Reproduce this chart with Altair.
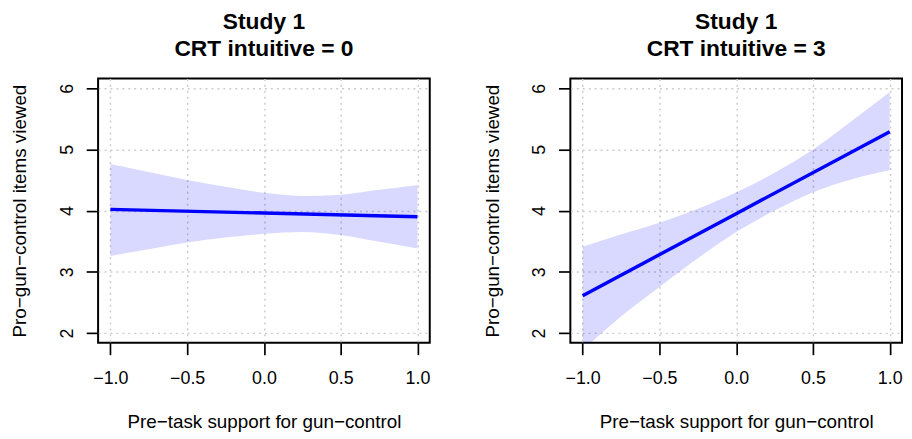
import altair as alt
import pandas as pd

# ---- data ----
x_band = [-1.0, -0.75, -0.5, -0.25, 0.0, 0.25, 0.5, 0.75, 1.0]
upper_crt0 = [4.76, 4.63, 4.50, 4.39, 4.29, 4.24, 4.26, 4.34, 4.42]
lower_crt0 = [3.26, 3.37, 3.48, 3.56, 3.62, 3.65, 3.60, 3.49, 3.38]
upper_crt3 = [3.41, 3.61, 3.80, 4.03, 4.30, 4.62, 5.00, 5.46, 5.94]
lower_crt3 = [1.72, 2.27, 2.75, 3.22, 3.65, 4.00, 4.30, 4.51, 4.66]

x_fit = [-1.0, 0.0, 1.0]
fit_crt0 = [4.02, 3.96, 3.90]
fit_crt3 = [2.61, 3.95, 5.29]

x_ticks = [-1.0, -0.5, 0.0, 0.5, 1.0]
y_ticks = [2, 3, 4, 5, 6]
titles = [["Study 1", "CRT intuitive = 0"], ["Study 1", "CRT intuitive = 3"]]
x_title = "Pre\u2212task support for gun\u2212control"
y_title = "Pro\u2212gun\u2212control items viewed"

FONT = "Liberation Sans"
W, H = 335, 267


def panel(title, upper, lower, fit):
    band_df = pd.DataFrame({"x": x_band, "lo": lower, "hi": upper})
    fit_df = pd.DataFrame({"x": x_fit, "fit": fit})
    xs = alt.Scale(domain=[-1.08, 1.08], nice=False, zero=False)
    ys = alt.Scale(domain=[1.84, 6.16], nice=False, zero=False)
    common = dict(
        grid=True, gridColor="#cccccc", gridDash=[2, 4], gridWidth=1.5,
        domain=False, ticks=True, tickColor="black", tickSize=12, tickWidth=1.7,
        labelFont=FONT, labelFontSize=18, labelColor="black",
        titleFont=FONT, titleFontSize=19, titleFontWeight="normal", titleColor="black",
        labelFlush=False, labelOverlap=False,
    )
    xaxis = alt.Axis(
        values=x_ticks, format=".1f", title=x_title,
        labelBaseline="alphabetic", labelPadding=29,
        titleY=86, titleX=W / 2, titleBaseline="alphabetic", titleAlign="center",
        **common,
    )
    yaxis = alt.Axis(
        values=y_ticks, format="d", title=y_title,
        labelAngle=270, labelAlign="center", labelBaseline="alphabetic", labelPadding=14,
        titleAngle=270, titleX=-73, titleY=H / 2, titleBaseline="alphabetic", titleAlign="center",
        **common,
    )
    band = alt.Chart(band_df).mark_area(
        color="#0000ff", opacity=0.15, clip=True, interpolate="monotone"
    ).encode(
        x=alt.X("x:Q", scale=xs, axis=xaxis),
        y=alt.Y("lo:Q", scale=ys, axis=yaxis),
        y2="hi:Q",
    )
    line = alt.Chart(fit_df).mark_line(
        color="#0000ff", strokeWidth=3.5, clip=True
    ).encode(
        x=alt.X("x:Q", scale=xs),
        y=alt.Y("fit:Q", scale=ys),
    )
    return alt.layer(band, line).properties(
        width=W, height=H,
        title=alt.TitleParams(
            text=title, font=FONT, fontSize=23, fontWeight="bold", color="black",
            anchor="middle", frame="group", lineHeight=27, offset=18,
        ),
    )


left = panel(titles[0], upper_crt0, lower_crt0, fit_crt0)
right = panel(titles[1], upper_crt3, lower_crt3, fit_crt3)

chart = alt.hconcat(left, right, spacing=50).properties(
    padding={"left": 1, "top": 0, "right": 0, "bottom": 0}
).configure_view(stroke="black", strokeWidth=2)

chart.save("out.html", embed_options={"renderer": "svg", "actions": False})
